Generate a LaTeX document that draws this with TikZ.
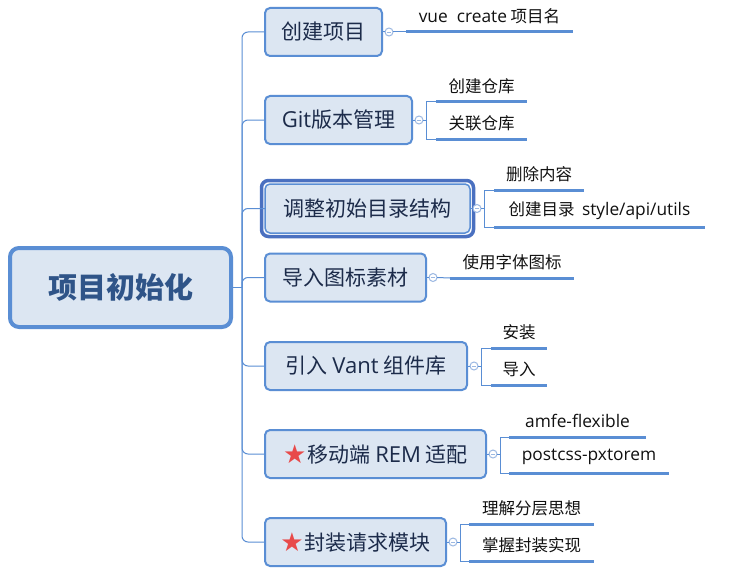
\documentclass[tikz,border=0pt]{standalone}
\usepackage{fontspec}
\setmainfont{Noto Sans CJK SC}
\newfontfamily\lat[Scale=1.05]{Open Sans}
\newfontfamily\djv{DejaVu Sans}
\usetikzlibrary{positioning}
\definecolor{bfill}{HTML}{DCE6F2}
\definecolor{bline}{HTML}{5A8ED4}
\definecolor{dline}{HTML}{4A70C0}
\definecolor{txt}{HTML}{1C2B4A}
\definecolor{roottxt}{HTML}{2F5488}
\definecolor{circ}{HTML}{9BB8E2}
\definecolor{starred}{HTML}{E84A4A}
\definecolor{leaftxt}{HTML}{111111}
\tikzset{
  topic/.style={draw=bline, line width=2pt, fill=bfill, rounded corners=5pt,
    minimum height=48pt, anchor=west, text=txt, inner sep=0pt, outer sep=0pt,
    font=\fontsize{21}{25}\selectfont},
  roottopic/.style={draw=bline, line width=4pt, fill=bfill, rounded corners=9pt,
    minimum width=221pt, minimum height=79pt, inner sep=0pt, text=roottxt,
    font=\fontsize{29}{34}\selectfont\bfseries},
  conn/.style={draw=bline, line width=1pt},
  uline/.style={draw=bline, line width=3pt},
  leaf/.style={anchor=south west, minimum height=32pt, inner sep=0pt, outer sep=0pt,
    text=leaftxt, font=\fontsize{16.5}{20}\selectfont},
  cbtn/.style={circle, draw=circ, line width=1pt, fill=white, minimum size=8pt,
    inner sep=0pt, outer sep=0pt,
    path picture={\draw[circ, line width=0.9pt]
      ([xshift=-2.2pt]path picture bounding box.center) --
      ([xshift=2.2pt]path picture bounding box.center);}}
}
\newcommand{\rstar}{{\color{starred}\djv\fontsize{26}{26}\selectfont\raisebox{-1pt}{★}}\hspace{1pt}}
\begin{document}
\begin{tikzpicture}[x=1pt,y=-1pt]
\path[fill=white] (0,0) rectangle (751,575);
\useasboundingbox (0,0) rectangle (751,575);

% root
\node[roottopic] (root) at (120.5,287.5) {项目初始化};
\coordinate (trunk) at ([xshift=9pt]root.east);

% topics
\node[topic, minimum width=117pt] (t1) at (265,32) {创建项目};
\node[topic, minimum width=147pt] (t2) at (265,120) {{\lat Git}版本管理};
\node[topic, minimum width=205pt, minimum height=49pt, line width=1.5pt] (t3) at (265,208.5) {调整初始目录结构};
\node[topic, minimum width=161pt] (t4) at (265,277.5) {导入图标素材};
\node[topic, minimum width=202pt] (t5) at (265,366) {引入 {\lat Vant} 组件库};
\node[topic, minimum width=221pt] (t6) at (265,454) {\rstar 移动端 {\lat REM} 适配};
\node[topic, minimum width=181pt] (t7) at (265,542) {\rstar 封装请求模块};

% outer highlight of t3
\draw[dline, line width=3.5pt, rounded corners=7pt]
  ([shift={(-3.5pt,-3.5pt)}]t3.south west) rectangle ([shift={(3.5pt,3.5pt)}]t3.north east);

% branches
\draw[conn] (root.east) -- (trunk);
\foreach \t in {t1,t2,t3,t4,t5,t6,t7}{
  \draw[conn, rounded corners=6pt] (trunk) |- (\t.west);
}

% collapse buttons
\foreach \i in {1,...,7}{
  \node[cbtn, right=3pt of t\i] (c\i) {};
  \draw[conn] (t\i.east) -- (c\i.west);
}

% leaves
\node[leaf, minimum width=167pt] (l1) at (406,32) {{\lat vue\ \ create} 项目名};
\node[leaf, minimum width=91pt] (l21) at (436,102) {创建仓库};
\node[leaf, minimum width=91pt] (l22) at (436,139) {关联仓库};
\node[leaf, minimum width=90pt] (l31) at (494,190) {删除内容};
\node[leaf, minimum width=211pt] (l32) at (494,227) {创建目录\ \ {\lat style/api/utils}};
\node[leaf, minimum width=124pt] (l4) at (450,278) {使用字体图标};
\node[leaf, minimum width=56pt] (l51) at (491,348) {安装};
\node[leaf, minimum width=56pt] (l52) at (491,385) {导入};
\node[leaf, minimum width=137pt] (l61) at (509,437) {\lat amfe-flexible};
\node[leaf, minimum width=160pt] (l62) at (509,473) {\lat postcss-pxtorem};
\node[leaf, minimum width=125pt] (l71) at (469,524) {理解分层思想};
\node[leaf, minimum width=125pt] (l72) at (469,561) {掌握封装实现};

\foreach \l in {l1,l21,l22,l31,l32,l4,l51,l52,l61,l62,l71,l72}{
  \draw[uline] (\l.south west) -- (\l.south east);
}

% connectors button -> leaves
\draw[conn] (c1.east) -- (l1.south west);
\draw[conn] (c4.east) -- (l4.south west);
\foreach \i/\a/\b in {2/l21/l22,3/l31/l32,5/l51/l52,6/l61/l62,7/l71/l72}{
  \draw[conn] (c\i.east) -- ++(3pt,0pt) |- (\a.south west);
  \draw[conn] (c\i.east) -- ++(3pt,0pt) |- (\b.south west);
}
\end{tikzpicture}
\end{document}
